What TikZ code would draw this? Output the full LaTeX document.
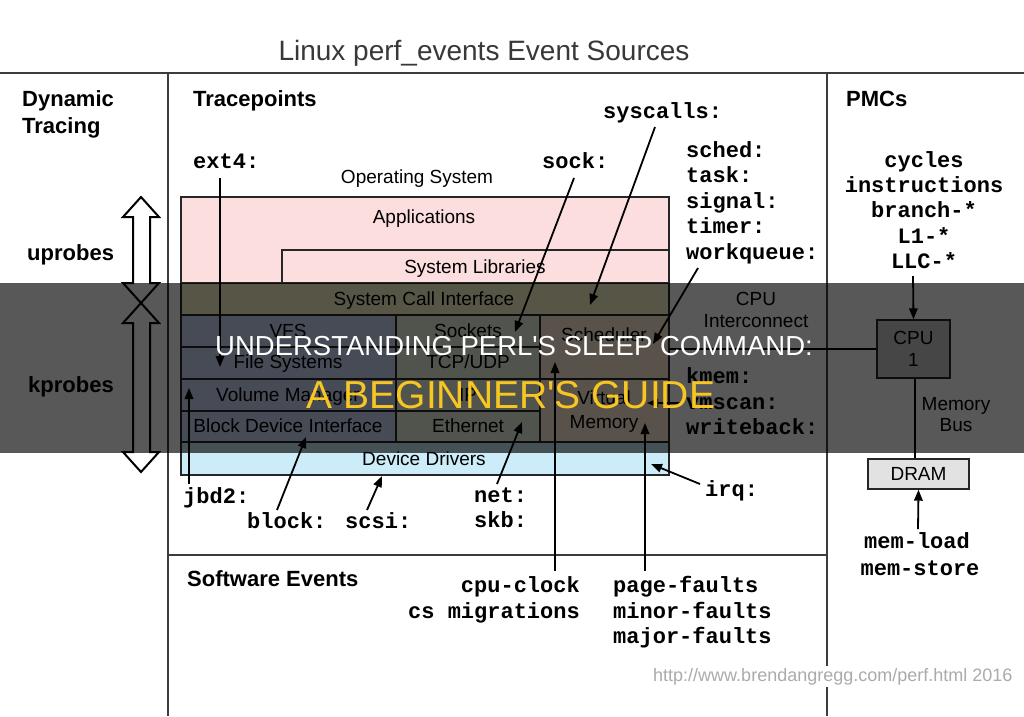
\documentclass[tikz,border=0pt]{standalone}
\usepackage{fontspec}
\setmainfont{Liberation Sans}
\newfontfamily\monof{Liberation Mono}
\newfontfamily\bannerfont[Ligatures=TeXOff]{Liberation Sans}
\usetikzlibrary{arrows.meta}
\definecolor{pinkc}{RGB}{253,222,222}
\definecolor{scic}{RGB}{250,247,205}
\definecolor{bluec}{RGB}{205,218,248}
\definecolor{netc}{RGB}{232,245,225}
\definecolor{schc}{RGB}{255,240,215}
\definecolor{ddc}{RGB}{205,236,250}
\definecolor{cpuc}{RGB}{205,205,205}
\definecolor{dramc}{RGB}{226,226,226}
\definecolor{bannery}{RGB}{248,198,35}
\definecolor{framec}{RGB}{60,60,60}
\begin{document}
\begin{tikzpicture}[x=1pt,y=-1pt,
  hdr/.style={font=\fontsize{22}{26}\selectfont\bfseries, anchor=base west, inner sep=0pt},
  mono/.style={font=\monof\bfseries\fontsize{22}{25.5}\selectfont, inner sep=0pt, anchor=base west},
  monoc/.style={mono, anchor=base},
  lbl/.style={font=\fontsize{19}{22}\selectfont, inner sep=0pt, anchor=base},
  arr/.style={draw=black, line width=1.8pt, -{Triangle[length=11pt,width=8.5pt]}},
  frame/.style={draw=framec, line width=2pt},
  cell/.style={draw=black!85, line width=1.4pt},
  hollow/.style={draw=black, line width=2pt, fill=white, line join=miter},
]
\useasboundingbox (0,0) rectangle (1024,716);
\fill[white] (0,0) rectangle (1024,716);

% frames
\draw[frame] (0,73) -- (1024,73);
\draw[frame] (168,73) -- (168,716);
\draw[frame] (827,73) -- (827,716);
\draw[frame] (168,555) -- (827,555);

% title
\node[font=\fontsize{28}{32}\selectfont, text=black!78, anchor=base, inner sep=0pt] (title) at (484,60) {Linux perf\_events Event Sources};

% headers
\node[hdr] (dyn) at (22,106) {Dynamic};
\node[hdr] (trc) at (22,133) {Tracing};
\node[hdr] (tp) at (193,106) {Tracepoints};
\node[hdr] (pmc) at (846,106) {PMCs};
\node[hdr] (up) at (27,260) {uprobes};
\node[hdr] (kp) at (28,392) {kprobes};
\node[hdr] (sw) at (187,586) {Software Events};

% hollow double arrows
\path[hollow] (141,197) -- (159,217) -- (150,217) -- (150,283) -- (159,283) -- (141,303) -- (123,283) -- (133,283) -- (133,217) -- (123,217) -- cycle;
\path[hollow] (141,303) -- (159,323) -- (150,323) -- (150,452) -- (159,452) -- (141,472) -- (123,452) -- (133,452) -- (133,323) -- (123,323) -- cycle;

% operating system stack
\node[lbl] (os) at (417,183) {Operating System};
\filldraw[cell, fill=pinkc] (181,197) rectangle (669,283);
\filldraw[cell, fill=pinkc] (282,250) rectangle (669,283);
\filldraw[cell, fill=scic] (181,283) rectangle (669,315);
\filldraw[cell, fill=bluec] (181,315) rectangle (396,347);
\filldraw[cell, fill=bluec] (181,347) rectangle (396,379);
\filldraw[cell, fill=bluec] (181,379) rectangle (396,411);
\filldraw[cell, fill=bluec] (181,411) rectangle (396,442);
\filldraw[cell, fill=netc] (396,315) rectangle (540,347);
\filldraw[cell, fill=netc] (396,347) rectangle (540,379);
\filldraw[cell, fill=netc] (396,379) rectangle (540,411);
\filldraw[cell, fill=netc] (396,411) rectangle (540,442);
\filldraw[cell, fill=schc] (540,315) rectangle (669,379);
\filldraw[cell, fill=schc] (540,379) rectangle (669,442);
\filldraw[cell, fill=ddc] (181,442) rectangle (669,475);

\node[lbl] (apps) at (424,223) {Applications};
\node[lbl] (slib) at (475,273) {System Libraries};
\node[lbl] (sci) at (424,305) {System Call Interface};
\node[lbl] (vfs) at (288,337) {VFS};
\node[lbl] (fs) at (288,368) {File Systems};
\node[lbl] (vm) at (288,401) {Volume Manager};
\node[lbl] (bdi) at (288,432) {Block Device Interface};
\node[lbl] (sockets) at (468,337) {Sockets};
\node[lbl] (tcp) at (468,368) {TCP/UDP};
\node[lbl] (ip) at (468,401) {IP};
\node[lbl] (eth) at (468,432) {Ethernet};
\node[lbl] (schedl) at (604,341) {Scheduler};
\node[lbl] (virt) at (604,404) {Virtual};
\node[lbl] (memv) at (604,428) {Memory};
\node[lbl] (dd) at (424,465) {Device Drivers};

% CPU interconnect / CPU / DRAM
\node[lbl] (ic1) at (756,305) {CPU};
\node[lbl] (ic2) at (756,327) {Interconnect};
\node[draw=black!85, line width=1.4pt, fill=cpuc, minimum width=73pt, minimum height=58pt, inner sep=0pt, align=center, font=\fontsize{19}{22}\selectfont] (cpu) at (913.5,349) {CPU\\1};
\node[draw=black!85, line width=1.4pt, fill=dramc, minimum width=101pt, minimum height=30pt, inner sep=0pt, font=\fontsize{19}{22}\selectfont] (dram) at (918.5,474) {DRAM};
\node[lbl] (mb1) at (956,410) {Memory};
\node[lbl] (mb2) at (956,431) {Bus};
\coordinate (icl) at (669,349);
\draw[line width=1.8pt] (icl) -- (cpu.west);
\draw[line width=1.8pt] ([xshift=1.5pt]cpu.south) -- ([xshift=1.5pt]cpu.south |- dram.north);

% tracepoint labels
\node[mono] (ext4) at (193,168) {ext4:};
\node[mono] (sock) at (542,168) {sock:};
\node[mono] (sysc) at (603,118) {syscalls:};
\node[mono] (sched) at (686,157) {sched:};
\node[mono] (task) at (686,182.5) {task:};
\node[mono] (signal) at (686,208) {signal:};
\node[mono] (timer) at (686,233.5) {timer:};
\node[mono] (wq) at (686,259) {workqueue:};
\node[mono] (kmem) at (686,383) {kmem:};
\node[mono] (vmscan) at (686,409) {vmscan:};
\node[mono] (wb) at (686,434) {writeback:};
\node[mono] (irq) at (705,496) {irq:};
\node[mono] (jbd2) at (183,503) {jbd2:};
\node[mono] (block) at (247,528) {block:};
\node[mono] (scsi) at (345,528) {scsi:};
\node[mono] (net) at (474,502) {net:};
\node[mono] (skb) at (474,527) {skb:};

% PMCs
\node[monoc] (cyc) at (924,167) {cycles};
\node[monoc] (ins) at (924,192) {instructions};
\node[monoc] (br) at (924,217) {branch-*};
\node[monoc] (l1) at (924,243) {L1-*};
\node[monoc] (llc) at (924,268) {LLC-*};
\node[monoc] (ml) at (917,548) {mem-load};
\node[monoc] (ms) at (920,575) {mem-store};

% software events
\node[mono, anchor=base east] (cpuclk) at (580,592) {cpu-clock};
\node[mono, anchor=base east] (csm) at (580,618) {cs migrations};
\node[mono] (pf) at (613,592) {page-faults};
\node[mono] (minf) at (613,618) {minor-faults};
\node[mono] (majf) at (613,643) {major-faults};

% arrow endpoints
\coordinate (e4s) at (220,178);   \coordinate (e4t) at (220,367);
\coordinate (sks) at (574,178);   \coordinate (skt) at (515,332);
\coordinate (scs) at (655,127);   \coordinate (sct) at (590,305);
\coordinate (wqs) at (698,268);   \coordinate (wqt) at (653,344);
\coordinate (kms) at (683,403);   \coordinate (kmt) at (647,403);
\coordinate (jbs) at (189,484);   \coordinate (jbt) at (189,388);
\coordinate (bls) at (277,510);   \coordinate (blt) at (306,437);
\coordinate (scss) at (367,510);  \coordinate (scst) at (382,476);
\coordinate (nts) at (497,484);   \coordinate (ntt) at (522,422);
\coordinate (ccs) at (555,571);   \coordinate (cct) at (555,362);
\coordinate (pfs) at (645,571);   \coordinate (pft) at (645,423);
\coordinate (irs) at (700,484);   \coordinate (irt) at (651,464);
\coordinate (lls) at (913,276);
\coordinate (mls) at (918,529);

\draw[arr] (e4s) -- (e4t);
\draw[arr] (sks) -- (skt);
\draw[arr] (scs) -- (sct);
\draw[arr] (wqs) -- (wqt);
\draw[arr] (kms) -- (kmt);
\draw[arr] (jbs) -- (jbt);
\draw[arr] (bls) -- (blt);
\draw[arr] (scss) -- (scst);
\draw[arr] (nts) -- (ntt);
\draw[arr] (ccs) -- (cct);
\draw[arr] (pfs) -- (pft);
\draw[arr] (irs) -- (irt);
\draw[arr] (lls) -- (cpu.north);
\draw[arr] (mls) -- (dram.south);

% watermark
\node[font=\fontsize{18}{20}\selectfont, text=black!33, fill=white, inner sep=2pt, anchor=base west] (wm) at (651,681) {http://www.brendangregg.com/perf.html 2016};

% banner
\fill[black, opacity=0.655] (0,283) rectangle (1024,453);
\node[font=\bannerfont\fontsize{27.5}{30}\selectfont, text=white, anchor=base, inner sep=0pt] (bt1) at (514,355) {UNDERSTANDING PERL'S SLEEP COMMAND:};
\node[font=\bannerfont\fontsize{39}{42}\selectfont, text=bannery, anchor=base, inner sep=0pt] (bt2) at (511,408) {A BEGINNER'S GUIDE};
\end{tikzpicture}
\end{document}
